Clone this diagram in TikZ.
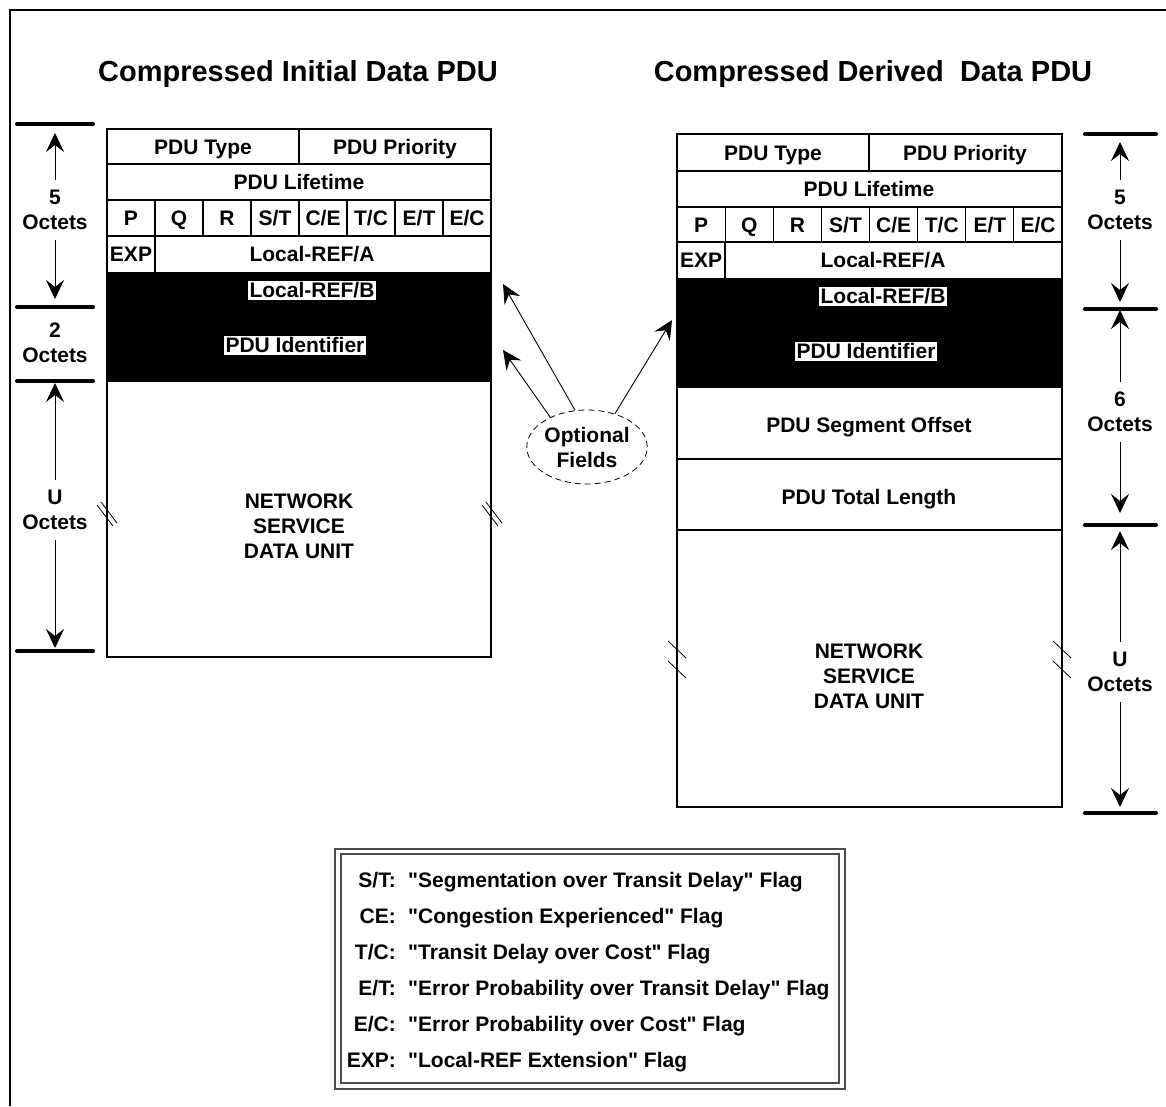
\documentclass[tikz,border=0pt]{standalone}
\usepackage{fontspec}
\setmainfont{Liberation Sans}
\usetikzlibrary{arrows.meta,shapes.geometric}
\tikzset{>={Stealth[length=19pt,width=18pt,inset=7pt]}}
\newcommand{\dq}{\XeTeXglyph\XeTeXcharglyph"22\relax}

\begin{document}
\begin{tikzpicture}[x=1pt,y=-1pt,
  fld/.style={font=\fontsize{21}{25}\selectfont\bfseries,inner sep=0pt,text height=15pt,text depth=0pt},
  two/.style={font=\fontsize{21}{25}\selectfont\bfseries,inner sep=0pt,align=center},
  ttl/.style={font=\fontsize{29}{34}\selectfont\bfseries,inner sep=0pt,text height=21pt,text depth=0pt},
  inv/.style={fld,fill=white,inner sep=1.5pt,text depth=1pt},
  cell/.style={line width=1.2pt},
  bar/.style={line width=4pt,line cap=round},
  dimline/.style={->,line width=0.9pt,shorten <=10pt},
  optline/.style={->,line width=0.9pt},
  brk/.style={line width=0.8pt}]
  \useasboundingbox (0,0) rectangle (1166,1106);
  \draw[line width=2.5pt] (10,1106) -- (10,10) -- (1166,10);

  \node[ttl] (ltitle) at (298,71) {Compressed Initial Data PDU};
  \node[ttl] (rtitle) at (873,71) {Compressed Derived\ \ Data PDU};

  % initial PDU
  \fill (107,272) rectangle (491,381);
  \draw[cell] (107,129) rectangle (491,381);
  \draw[cell] (107,164) -- (491,164) (107,200) -- (491,200) (107,236) -- (491,236);
  \draw[cell] (299,129) -- (299,164) (155,236) -- (155,272);
  \foreach \x in {155,203,...,443} \draw[cell] (\x,200) -- (\x,236);
  \draw[cell] (107,381) rectangle (491,657);
  \node[fld] (ltype) at (203,147) {PDU Type};
  \node[fld] (lprio) at (395,147) {PDU Priority};
  \node[fld] (llife) at (299,182) {PDU Lifetime};
  \foreach \f [count=\i] in {P,Q,R,{S/T},{C/E},{T/C},{E/T},{E/C}}
    \node[fld] (lflag\i) at ({83+48*\i},218) {\f};
  \node[fld] (lexp) at (131,254) {EXP};
  \node[fld] (lrefa) at (312,254) {Local-REF/A};
  \node[inv] (lrefb) at (312,290) {Local-REF/B};
  \node[inv] (lid) at (295,345) {PDU Identifier};
  \node[two] (lnsdu) at (299,526) {NETWORK\\SERVICE\\DATA UNIT};
  \draw[brk] (97,505) -- (113,526) (101,502) -- (117,523);
  \draw[brk] (482,505) -- (498,526) (486,502) -- (502,523);

  % derived PDU
  \fill (677,278) rectangle (1062,387);
  \draw[cell] (677,134) rectangle (1062,387);
  \draw[cell] (677,171) -- (1062,171) (677,207) -- (1062,207) (677,242) -- (1062,242);
  \draw[cell] (869,134) -- (869,171) (725,242) -- (725,278);
  \foreach \i in {1,...,7} \draw[cell] ({677+48.125*\i},207) -- ({677+48.125*\i},242);
  \draw[cell] (677,387) rectangle (1062,807);
  \draw[cell] (677,459) -- (1062,459) (677,530) -- (1062,530);
  \node[fld] (rtype) at (773,153) {PDU Type};
  \node[fld] (rprio) at (965,153) {PDU Priority};
  \node[fld] (rlife) at (869,189) {PDU Lifetime};
  \foreach \f [count=\i] in {P,Q,R,{S/T},{C/E},{T/C},{E/T},{E/C}}
    \node[fld] (rflag\i) at ({653+48.125*\i},225) {\f};
  \node[fld] (rexp) at (701,260) {EXP};
  \node[fld] (rrefa) at (883,260) {Local-REF/A};
  \node[inv] (rrefb) at (883,296) {Local-REF/B};
  \node[inv] (rid) at (866,351) {PDU Identifier};
  \node[fld] (rseg) at (869,425) {PDU Segment Offset};
  \node[fld] (rtot) at (869,497) {PDU Total Length};
  \node[two] (rnsdu) at (869,676) {NETWORK\\SERVICE\\DATA UNIT};
  \draw[brk] (668,641) -- (686,658) (668,661) -- (686,678);
  \draw[brk] (1053,641) -- (1071,658) (1053,661) -- (1071,678);

  % octet counts, left
  \foreach \y [count=\i] in {124,307,381,651} {
    \draw[bar] (17,\y) -- (93,\y);
    \coordinate (lb\i) at (55,\y);
  }
  \node[two] (l5) at (55,210) {5\\Octets};
  \node[two] (l2) at (55,343) {2\\Octets};
  \node[two] (lu) at (55,510) {U\\Octets};
  \draw[dimline,shorten >=9pt] (l5) -- (lb1);
  \draw[dimline,shorten >=8pt] (l5) -- (lb2);
  \draw[dimline,shorten >=2pt] (lu) -- (lb3);
  \draw[dimline,shorten >=3pt] (lu) -- (lb4);

  % octet counts, right
  \foreach \y [count=\i] in {134,309,525,813} {
    \draw[bar] (1085,\y) -- (1156,\y);
    \coordinate (rb\i) at (1120,\y);
  }
  \node[two] (r5) at (1120,210) {5\\Octets};
  \node[two] (r6) at (1120,412) {6\\Octets};
  \node[two] (ru) at (1120,672) {U\\Octets};
  \draw[dimline,shorten >=8pt] (r5) -- (rb1);
  \draw[dimline,shorten >=7pt] (r5) -- (rb2);
  \draw[dimline,shorten >=1pt] (r6) -- (rb2);
  \draw[dimline,shorten >=12pt] (r6) -- (rb3);
  \draw[dimline,shorten >=6pt] (ru) -- (rb3);
  \draw[dimline,shorten >=6pt] (ru) -- (rb4);

  % optional fields
  \node[two,draw,ellipse,dash pattern=on 6pt off 4pt,line width=0.8pt,
    minimum width=120pt,minimum height=74pt] (opt) at (587,447) {Optional\\Fields};
  \coordinate (oa) at (503,284);
  \coordinate (ob) at (503,350);
  \coordinate (oc) at (672,320);
  \draw[optline] (opt.108) -- (oa);
  \draw[optline] (opt.141) -- (ob);
  \draw[optline] (opt.50) -- (oc);

  % legend
  \draw[line width=1.2pt,draw=black!70] (335,849) rectangle (845,1089);
  \draw[line width=1.2pt,draw=black!70] (341,854) rectangle (839,1083);
  \foreach \a/\d [count=\i] in {{S/T:}/{\dq Segmentation over Transit Delay\dq\ Flag},
      {CE:}/{\dq Congestion Experienced\dq\ Flag},
      {T/C:}/{\dq Transit Delay over Cost\dq\ Flag},
      {E/T:}/{\dq Error Probability over Transit Delay\dq\ Flag},
      {E/C:}/{\dq Error Probability over Cost\dq\ Flag},
      {EXP:}/{\dq Local-REF Extension\dq\ Flag}} {
    \node[fld,anchor=east] (key\i) at (396,{844+36*\i}) {\a};
    \node[fld,anchor=west] (txt\i) at (408,{844+36*\i}) {\d};
  }
\end{tikzpicture}
\end{document}
